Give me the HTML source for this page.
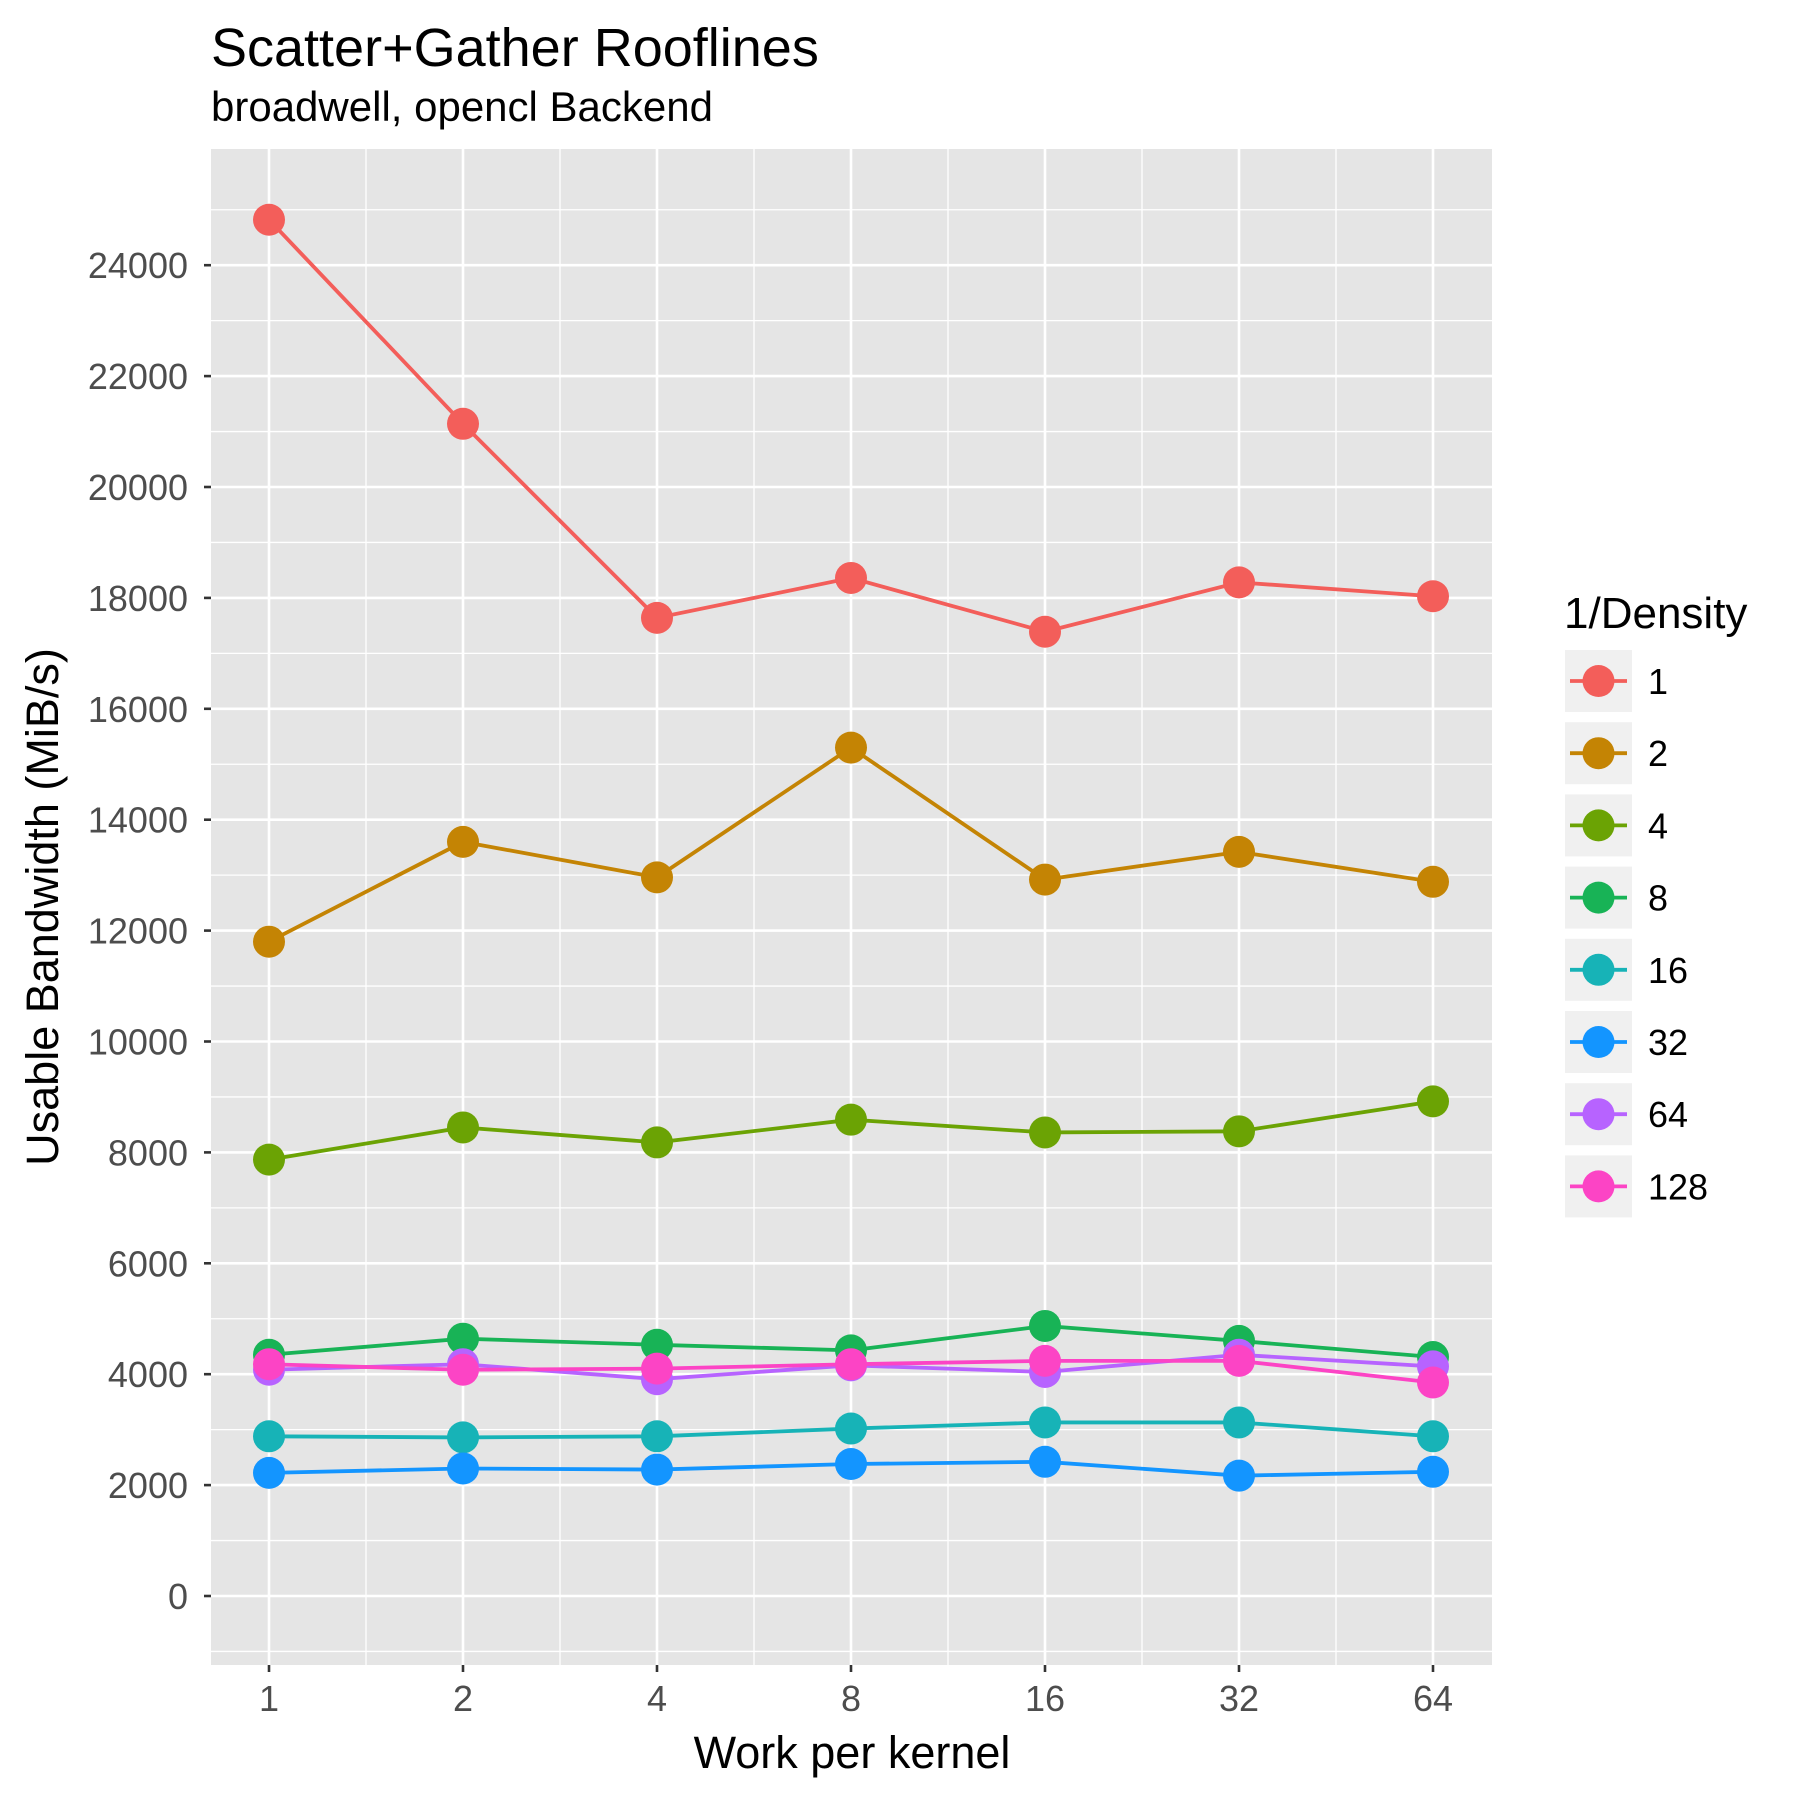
<!DOCTYPE html>
<html><head><meta charset="utf-8"><style>
html,body{margin:0;padding:0;background:#fff;}
svg{display:block;font-family:"Liberation Sans",Arial,sans-serif;}
</style></head><body>
<svg id="chart" width="1800" height="1800" viewBox="0 0 1800 1800" xmlns="http://www.w3.org/2000/svg">
<text x="211" y="66" font-size="54" fill="#000">Scatter+Gather Rooflines</text>
<text x="211" y="121" font-size="42" fill="#000">broadwell, opencl Backend</text>
<rect x="211" y="149" width="1281" height="1516" fill="#e5e5e5"/>
<g id="grid"></g><g id="series"></g><g id="axes"></g>
<text x="852" y="1768" font-size="45" text-anchor="middle" fill="#000">Work per kernel</text>
<text transform="translate(58,907) rotate(-90)" font-size="45" text-anchor="middle" fill="#000">Usable Bandwidth (MiB/s)</text>
<text x="1564" y="628" font-size="44" fill="#000">1/Density</text>
<g id="legend"></g>
</svg>
<script>
const xCategories = [1, 2, 4, 8, 16, 32, 64];
const seriesNames = ["1", "2", "4", "8", "16", "32", "64", "128"];
const seriesColors = ["#F35E5A", "#C48404", "#6BA304", "#18B356", "#17B3B7", "#1395FF", "#B763FF", "#FC44C5"];
const s1 = [24820, 21140, 17640, 18360, 17390, 18280, 18030];
const s2 = [11800, 13600, 12960, 15300, 12920, 13420, 12880];
const s4 = [7870, 8450, 8180, 8590, 8360, 8380, 8920];
const s8 = [4350, 4640, 4530, 4430, 4870, 4600, 4310];
const s16 = [2880, 2860, 2880, 3020, 3130, 3130, 2880];
const s32 = [2220, 2300, 2280, 2380, 2420, 2170, 2240];
const s64 = [4080, 4180, 3910, 4160, 4040, 4350, 4140];
const s128 = [4180, 4080, 4100, 4180, 4240, 4240, 3850];
const yTicks = [0, 2000, 4000, 6000, 8000, 10000, 12000, 14000, 16000, 18000, 20000, 22000, 24000];
const allSeries = [s1, s2, s4, s8, s16, s32, s64, s128];

const NS = "http://www.w3.org/2000/svg";
const PL = 211, PR = 1492, PT = 149, PB = 1665;
function xs(v){ return 269 + Math.log2(v) * 194; }
function ys(v){ return 1596 - v * (110.9 / 2000); }
function mk(tag, attrs, parent){ const e = document.createElementNS(NS, tag); for (const k in attrs) e.setAttribute(k, attrs[k]); parent.appendChild(e); return e; }
const grid = document.getElementById('grid'), ser = document.getElementById('series'), axes = document.getElementById('axes'), leg = document.getElementById('legend');

for (let i = 0; i < yTicks.length + 1; i++) {
  const v = (i - 1) * 2000 + 1000;
  const y = ys(v);
  if (y < PT || y > PB) continue;
  const l = mk('line', {x1: PL, x2: PR, y1: y, y2: y, stroke: '#fff', 'stroke-width': 1.3}, grid);
  
  
}
for (let i = -1; i < xCategories.length; i++) {
  const x = xs(Math.pow(2, i + 0.5));
  if (x < PL || x > PR) continue;
  const l = mk('line', {x1: x, x2: x, y1: PT, y2: PB, stroke: '#fff', 'stroke-width': 1.3}, grid);
  
  
}
yTicks.forEach(v => {
  const y = ys(v);
  const l = mk('line', {x1: PL, x2: PR, y1: y, y2: y, stroke: '#fff', 'stroke-width': 2.6}, grid);
  
  
  const t = mk('line', {x1: PL - 7, x2: PL, y1: y, y2: y, stroke: '#333', 'stroke-width': 2.6}, axes);
  
  
  const tx = mk('text', {x: PL - 23, y: y + 13, 'font-size': 36, 'text-anchor': 'end', fill: '#4d4d4d'}, axes);
  tx.textContent = String(v);
  
  
});
xCategories.forEach(v => {
  const x = xs(v);
  const l = mk('line', {x1: x, x2: x, y1: PT, y2: PB, stroke: '#fff', 'stroke-width': 2.6}, grid);
  
  
  const t = mk('line', {x1: x, x2: x, y1: PB, y2: PB + 7, stroke: '#333', 'stroke-width': 2.6}, axes);
  
  
  const tx = mk('text', {x: x, y: PB + 46, 'font-size': 36, 'text-anchor': 'middle', fill: '#4d4d4d'}, axes);
  tx.textContent = String(v);
  
  
});
allSeries.forEach((arr, si) => {
  const g = mk('g', {}, ser);
  
  
  const pts = arr.map((v, i) => xs(xCategories[i]) + ',' + ys(v)).join(' ');
  const pl = mk('polyline', {points: pts, fill: 'none', stroke: seriesColors[si], 'stroke-width': 3.8}, g);
  
  
  arr.forEach((v, i) => {
    const c = mk('circle', {cx: xs(xCategories[i]), cy: ys(v), r: 16, fill: seriesColors[si]}, g);
    
    
  });
});
seriesNames.forEach((n, i) => {
  const cy = 681 + i * 72.2;
  const g = mk('g', {}, leg);
  
  
  mk('rect', {x: 1565, y: cy - 31, width: 67, height: 62, fill: '#f0f0f0'}, g);
  mk('line', {x1: 1570, x2: 1627, y1: cy, y2: cy, stroke: seriesColors[i], 'stroke-width': 3.8}, g);
  mk('circle', {cx: 1598.5, cy: cy, r: 16, fill: seriesColors[i]}, g);
  const t = mk('text', {x: 1648, y: cy + 13, 'font-size': 36, fill: '#000'}, g);
  t.textContent = n;
});
</script>
</body></html>
